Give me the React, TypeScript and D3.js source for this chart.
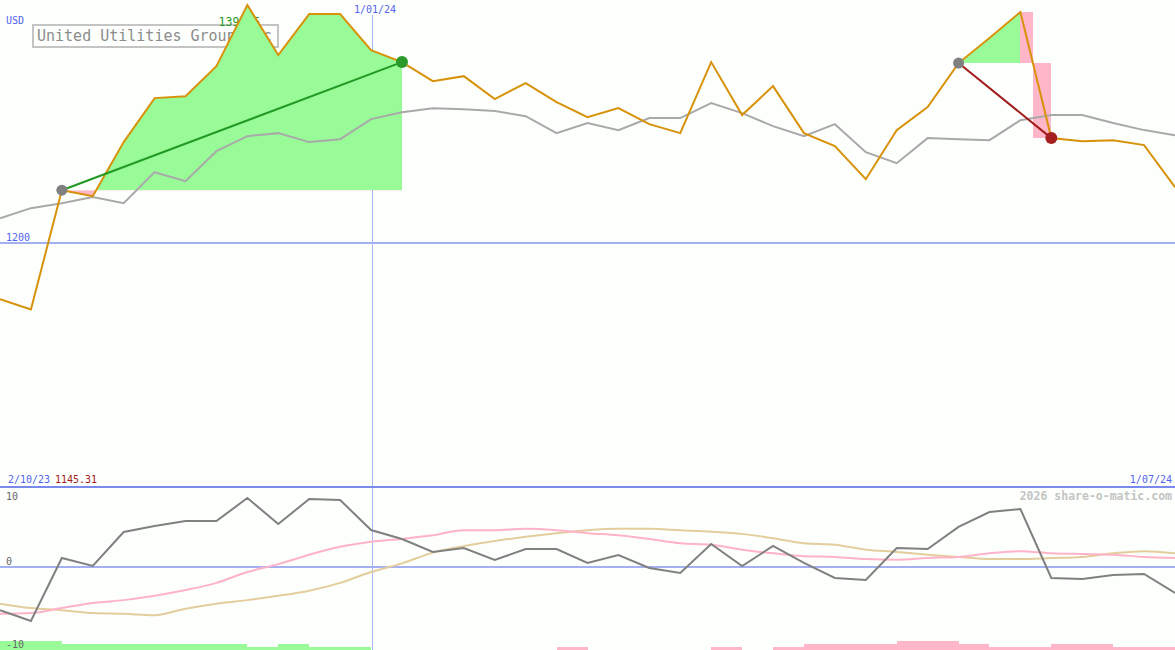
import * as d3 from 'd3'

const W = 1175
const H = 650

// closing prices, one per period
const price = [1153.8, 1145.31, 1243.7, 1238.8, 1283.4, 1319.7, 1321.3, 1346.1, 1396.5, 1355.2, 1389.0, 1389.0, 1359.3, 1349.4, 1333.7, 1337.8, 1318.9, 1332.1, 1316.4, 1304.0, 1311.4, 1298.2, 1290.8, 1349.4, 1305.7, 1329.6, 1290.8, 1280.1, 1252.8, 1293.3, 1312.3, 1348.6, 1369.2, 1390.7, 1286.7, 1284.2, 1285.0, 1280.9, 1246.2]
// comparison line (grey)
const benchmark = [1220.6, 1228.9, 1233.0, 1238.0, 1233.0, 1258.6, 1251.2, 1275.9, 1288.3, 1290.8, 1283.4, 1285.8, 1302.4, 1308.1, 1311.4, 1310.6, 1309.0, 1304.8, 1290.8, 1299.1, 1293.3, 1303.2, 1303.2, 1315.6, 1307.3, 1296.6, 1288.3, 1298.2, 1275.1, 1266.0, 1286.7, 1285.8, 1285.0, 1301.5, 1305.7, 1305.7, 1299.1, 1293.3, 1289.1]

// lower panel
const momentum = [-6.0, -7.5, 1.25, 0.14, 4.86, 5.69, 6.39, 6.39, 9.58, 5.97, 9.44, 9.31, 5.14, 3.89, 2.08, 2.64, 0.97, 2.5, 2.5, 0.56, 1.67, -0.14, -0.83, 3.19, 0.14, 2.92, 0.56, -1.53, -1.81, 2.64, 2.5, 5.56, 7.64, 8.06, -1.53, -1.67, -1.11, -0.97, -3.61]
const momentumFast = [-6.5, -6.4, -5.7, -5.0, -4.6, -4.0, -3.2, -2.2, -0.7, 0.4, 1.7, 2.8, 3.5, 3.9, 4.4, 5.1, 5.1, 5.3, 5.1, 4.7, 4.4, 3.9, 3.3, 3.1, 2.4, 1.9, 1.5, 1.4, 1.1, 1.0, 1.25, 1.4, 1.9, 2.2, 1.9, 1.8, 1.7, 1.4, 1.25]
const momentumSlow = [-5.1, -5.7, -6.0, -6.4, -6.5, -6.7, -5.8, -5.1, -4.6, -4.0, -3.3, -2.2, -0.7, 0.5, 2.0, 2.9, 3.6, 4.2, 4.7, 5.1, 5.3, 5.3, 5.1, 4.9, 4.6, 4.0, 3.3, 3.1, 2.4, 2.1, 1.7, 1.4, 1.1, 1.1, 1.25, 1.4, 1.9, 2.2, 1.9]
const signalBars = [3, 3, 2, 2, 2, 2, 2, 2, 1, 2, 1, 1, 0, 0, 0, 0, 0, 0, -1, 0, 0, 0, 0, -1, 0, -1, -2, -2, -2, -3, -3, -2, -1, -1, -2, -2, -1, -1]

const trades = [
  { buy: 2, sell: 13 },
  { buy: 31, sell: 34 },
]

const title = 'United Utilities Group Plc'
const currency = 'USD'
const startDate = '2/10/23'
const endDate = '1/07/24'
const markerDate = '1/01/24'
const markerIndex = 12
const priceTicks = [1200]
const oscTicks = [10, 0, -10]

const FONT = '"DejaVu Sans Mono", monospace'
const BLUE_TXT = '#5563ee'
const GREEN = '#98fb98'
const PINK = '#ffb6c8'

export default function App() {
  const x = d3.scaleLinear().domain([0, price.length - 1]).range([0, W])
  const minP = d3.min(price)!
  const maxP = d3.max(price)!
  const y = d3.scaleLinear().domain([minP, maxP]).range([309.5, 5])
  const yo = d3.scaleLinear().domain([-10, 10]).range([639, 495])
  const panelTop = 487

  const line = d3.line<number>().x((_, i) => x(i)).y(d => y(d))
  const oscLine = d3.line<number>().x((_, i) => x(i)).y(d => yo(d))
  const smoothLine = d3.line<number>().x((_, i) => x(i)).y(d => yo(d)).curve(d3.curveMonotoneX)

  const maxIdx = price.indexOf(maxP)

  // trade 1: area between price and entry level, green above, pink below
  const t1 = trades[0]
  const base1 = y(price[t1.buy])
  const idx1 = d3.range(t1.buy, t1.sell + 1)
  const area1 = d3.area<number>().x(i => x(i)).y0(base1).y1(i => y(price[i]))(idx1) || ''

  // trade 2: rise shaded green, the drop after the peak shaded pink in steps
  const t2 = trades[1]
  const base2 = y(price[t2.buy])
  const peak2 = t2.sell - 1
  const idx2 = d3.range(t2.buy, peak2 + 1)
  const area2 = d3.area<number>().x(i => x(i)).y0(base2).y1(i => y(price[i]))(idx2) || ''
  const tCross = (price[t2.buy] - price[peak2]) / (price[t2.sell] - price[peak2])
  const xCross = x(peak2) + (x(t2.sell) - x(peak2)) * tCross

  return (
    <svg width={W} height={H} style={{ position: 'absolute', left: 0, top: 0, background: '#fcfffc' }}
      fontFamily={FONT}>
      <defs>
        <clipPath id="above1"><rect x={0} y={0} width={W} height={base1} /></clipPath>
        <clipPath id="below1"><rect x={0} y={base1} width={W} height={H} /></clipPath>
        <clipPath id="above2"><rect x={0} y={0} width={W} height={base2} /></clipPath>
      </defs>
      <rect width={W} height={H} fill="#fcfffc" />

      {/* title box and labels */}
      <rect x={33} y={25} width={245} height={22} fill="none" stroke="#c4c4c4" strokeWidth={2} shapeRendering="crispEdges" />
      <text x={37} y={41} fontSize={15} fill="#8c8c8c">{title}</text>
      <text x={6} y={24} fontSize={10} fill={BLUE_TXT}>{currency}</text>
      <text x={x(maxIdx) - 8} y={y(maxP) + 21} fontSize={11.5} fill="#229922" textAnchor="middle">{maxP.toFixed(1)}</text>

      {/* grid */}
      {priceTicks.map(t => (
        <g key={t}>
          <line x1={0} x2={W} y1={y(t)} y2={y(t)} stroke="#a3b0f2" strokeWidth={2} shapeRendering="crispEdges" />
          <text x={6} y={y(t) - 2} fontSize={10} fill={BLUE_TXT}>{t}</text>
        </g>
      ))}
      <line x1={x(markerIndex) + 1} x2={x(markerIndex) + 1} y1={15} y2={H} stroke="#a8b6f8" strokeWidth={1} shapeRendering="crispEdges" />
      <text x={x(markerIndex) + 4} y={13} fontSize={10} fill={BLUE_TXT} textAnchor="middle">{markerDate}</text>

      {/* trade shading */}
      <path d={area1} fill={GREEN} clipPath="url(#above1)" />
      <path d={area1} fill={PINK} clipPath="url(#below1)" />
      <path d={area2} fill={GREEN} clipPath="url(#above2)" />
      <rect x={x(peak2)} y={y(price[peak2])} width={xCross - x(peak2)} height={base2 - y(price[peak2])} fill={PINK} shapeRendering="crispEdges" />
      <rect x={xCross} y={base2} width={x(t2.sell) - xCross} height={y(price[t2.sell]) - base2} fill={PINK} shapeRendering="crispEdges" />

      {/* price lines */}
      <path d={line(benchmark) || ''} fill="none" stroke="#a9a9a9" strokeWidth={2} />
      <path d={line(price) || ''} fill="none" stroke="#d8920a" strokeWidth={2} />

      {/* trades */}
      {trades.map((t, k) => {
        const win = price[t.sell] > price[t.buy]
        const col = win ? '#229922' : '#a31c1c'
        return (
          <g key={k}>
            <line x1={x(t.buy)} y1={y(price[t.buy])} x2={x(t.sell)} y2={y(price[t.sell])} stroke={col} strokeWidth={2} />
            <circle cx={x(t.buy)} cy={y(price[t.buy])} r={5.5} fill="#808080" />
            <circle cx={x(t.sell)} cy={y(price[t.sell])} r={6} fill={win ? '#2a9a2a' : '#a52020'} />
          </g>
        )
      })}

      {/* lower panel */}
      <text x={8} y={483} fontSize={10} fill={BLUE_TXT}>{startDate}</text>
      <text x={55} y={483} fontSize={10} fill="#a31c1c">{minP.toFixed(2)}</text>
      <text x={W - 3} y={483} fontSize={10} fill={BLUE_TXT} textAnchor="end">{endDate}</text>
      <line x1={0} x2={W} y1={panelTop} y2={panelTop} stroke="#7b88ec" strokeWidth={2} shapeRendering="crispEdges" />
      <text x={W - 3} y={500} fontSize={11.5} fontWeight="bold" fill="#c4c4c4" textAnchor="end">2026 share-o-matic.com</text>

      <line x1={0} x2={W} y1={yo(0)} y2={yo(0)} stroke="#a3b0f2" strokeWidth={2} shapeRendering="crispEdges" />

      {signalBars.map((v, i) => v === 0 ? null : (
        <rect key={i} x={Math.round(x(i))} width={Math.round(x(i + 1)) - Math.round(x(i))} y={H - Math.abs(v) * 3} height={Math.abs(v) * 3}
          fill={v > 0 ? GREEN : PINK} shapeRendering="crispEdges" />
      ))}

      {oscTicks.map(t => (
        <text key={t} x={6} y={yo(t) + (t === 0 ? -2 : t > 0 ? 5 : 9)} fontSize={10} fill="#666">{t}</text>
      ))}

      <path d={smoothLine(momentumSlow) || ''} fill="none" stroke="#e4cd9c" strokeWidth={2} />
      <path d={smoothLine(momentumFast) || ''} fill="none" stroke="#ffb3c8" strokeWidth={2} />
      <path d={oscLine(momentum) || ''} fill="none" stroke="#808080" strokeWidth={2} />
    </svg>
  )
}
